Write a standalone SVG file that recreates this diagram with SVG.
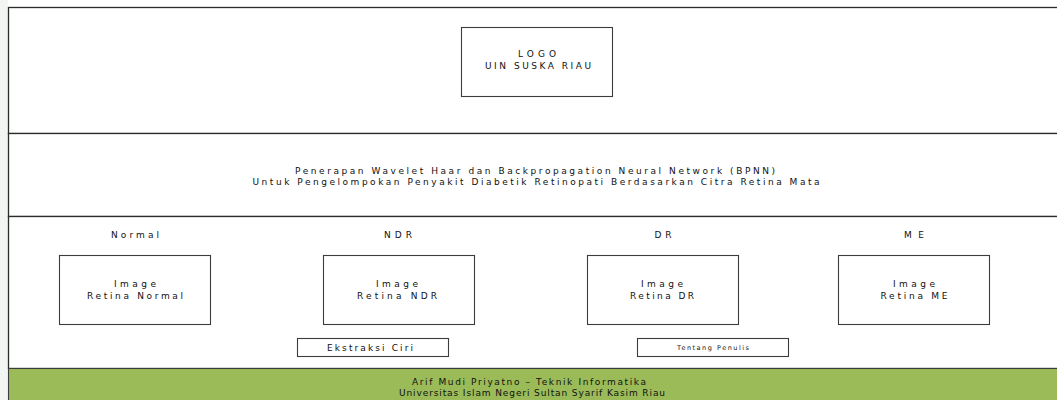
<svg xmlns="http://www.w3.org/2000/svg" width="1057" height="400" viewBox="0 0 1057 400">
  <style>
    .frame { fill: #ffffff; stroke: #2b2b2b; stroke-width: 1.3; }
    .box { fill: #ffffff; stroke: #3c3c3c; stroke-width: 1.1; }
    .footer { fill: #9bbb59; stroke: #3c3c3c; stroke-width: 1.1; }
    text { font-family: "DejaVu Sans", "Liberation Sans", sans-serif; font-size: 9px; fill: #111111; text-anchor: middle; }
    .small { font-size: 6.5px; }
  </style>

  <!-- page margin -->
  <rect x="0" y="0" width="1057" height="400" fill="#ffffff"/>
  <rect x="0" y="0" width="8" height="400" fill="#f3f5f3"/>

  <!-- header band with logo -->
  <g id="header">
    <rect class="frame" x="8.5" y="7.5" width="1060" height="126"/>
  </g>
  <g id="logo">
    <rect class="box" x="461.5" y="27.5" width="151" height="69"/>
    <text x="537" y="57" textLength="38" lengthAdjust="spacing">LOGO</text>
    <text x="538" y="68.5" textLength="106" lengthAdjust="spacing">UIN SUSKA RIAU</text>
  </g>

  <!-- title band -->
  <g id="title">
    <rect class="frame" x="8.5" y="133.5" width="1060" height="83"/>
    <text x="535" y="173.5" textLength="480" lengthAdjust="spacing">Penerapan Wavelet Haar dan Backpropagation Neural Network (BPNN)</text>
    <text x="536" y="185" textLength="567" lengthAdjust="spacing">Untuk Pengelompokan Penyakit Diabetik Retinopati Berdasarkan Citra Retina Mata</text>
  </g>

  <!-- image band -->
  <g id="content">
    <rect class="frame" x="8.5" y="216.5" width="1060" height="152"/>
  </g>

  <g id="normal">
    <text x="135" y="237.5" textLength="48" lengthAdjust="spacing">Normal</text>
    <rect class="box" x="59.5" y="255.5" width="151" height="69"/>
    <text x="135" y="286.5" textLength="42" lengthAdjust="spacing">Image</text>
    <text x="135" y="298.5" textLength="96" lengthAdjust="spacing">Retina Normal</text>
  </g>

  <g id="ndr">
    <text x="398" y="237.5" textLength="28" lengthAdjust="spacing">NDR</text>
    <rect class="box" x="323.5" y="255.5" width="151" height="69"/>
    <text x="397" y="286.5" textLength="42" lengthAdjust="spacing">Image</text>
    <text x="397" y="298.5" textLength="80" lengthAdjust="spacing">Retina NDR</text>
  </g>

  <g id="dr">
    <text x="663" y="237.5" textLength="17" lengthAdjust="spacing">DR</text>
    <rect class="box" x="587.5" y="255.5" width="151" height="69"/>
    <text x="662" y="286.5" textLength="42" lengthAdjust="spacing">Image</text>
    <text x="662" y="298.5" textLength="64" lengthAdjust="spacing">Retina DR</text>
  </g>

  <g id="me">
    <text x="914" y="237.5" textLength="20" lengthAdjust="spacing">ME</text>
    <rect class="box" x="838.5" y="255.5" width="151" height="69"/>
    <text x="914" y="286.5" textLength="42" lengthAdjust="spacing">Image</text>
    <text x="914" y="298.5" textLength="67" lengthAdjust="spacing">Retina ME</text>
  </g>

  <g id="btn-ekstraksi">
    <rect class="box" x="297.5" y="338.5" width="151" height="18"/>
    <text x="370" y="350.5" textLength="86" lengthAdjust="spacing">Ekstraksi Ciri</text>
  </g>

  <g id="btn-penulis">
    <rect class="box" x="637.5" y="338.5" width="151" height="18"/>
    <text class="small" x="713" y="350" textLength="72" lengthAdjust="spacing">Tentang Penulis</text>
  </g>

  <!-- footer band -->
  <g id="footer">
    <rect class="footer" x="8.5" y="368.5" width="1060" height="40"/>
    <text x="529" y="384.5" textLength="234" lengthAdjust="spacing">Arif Mudi Priyatno – Teknik Informatika</text>
    <text x="532" y="396" textLength="266" lengthAdjust="spacing">Universitas Islam Negeri Sultan Syarif Kasim Riau</text>
  </g>

  <g id="connectors"></g>
</svg>
